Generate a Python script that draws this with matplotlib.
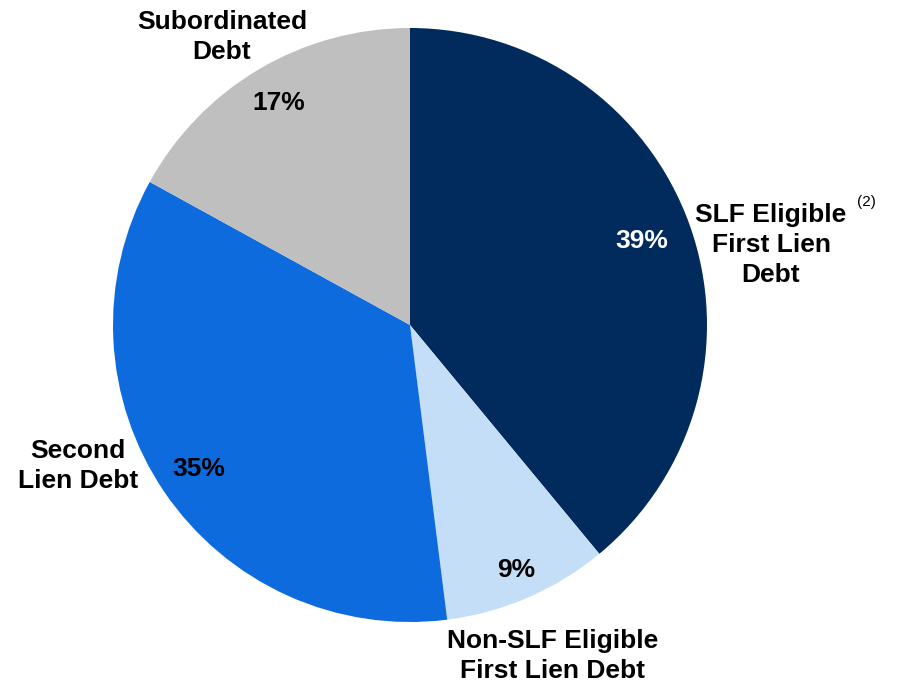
import numpy as np
import matplotlib.pyplot as plt

plt.rcParams['font.family'] = ['Liberation Sans', 'DejaVu Sans']

categories = ['SLF Eligible\nFirst Lien\nDebt', 'Non-SLF Eligible\nFirst Lien Debt',
              'Second\nLien Debt', 'Subordinated\nDebt']
shares = [39, 9, 35, 17]
colors = ['#002B5C', '#C5DEF7', '#0E6BDE', '#BFBFBF']
pct_colors = ['white', 'black', 'black', 'black']

# label anchors in pixel coords (y measured from top)
LABEL_POS = [(771, 245), (553, 656), (78, 466), (222, 37)]
PCT_DIST = [0.83, 0.90, 0.86, 0.87]
CENTER = (410, 325)
RADIUS = 297
H = 686

fig = plt.figure(figsize=(8.99, 6.86), dpi=100)
ax = fig.add_axes([0, 0, 1, 1])

cx, cy = CENTER[0], H - CENTER[1]
wedges, texts = ax.pie(
    shares, colors=colors, startangle=90, counterclock=False,
    center=(cx, cy), radius=RADIUS,
    wedgeprops={'linewidth': 0}, frame=True)

total = sum(shares)
for w, v, c, d in zip(wedges, shares, pct_colors, PCT_DIST):
    mid = np.deg2rad((w.theta1 + w.theta2) / 2)
    ax.text(cx + d * RADIUS * np.cos(mid), cy + d * RADIUS * np.sin(mid),
            '%.0f%%' % (100 * v / total), color=c, fontsize=19,
            fontweight='bold', ha='center', va='center')

for lab, (x, y) in zip(categories, LABEL_POS):
    ax.text(x, H - y, lab, ha='center', va='center', fontsize=19,
            fontweight='bold', linespacing=1.3)

ax.text(866, H - 202, '(2)', ha='center', va='center', fontsize=11)

ax.set_xlim(0, 899)
ax.set_ylim(0, H)
ax.set_aspect('equal')
ax.axis('off')

fig.savefig('out.png', dpi=100)
